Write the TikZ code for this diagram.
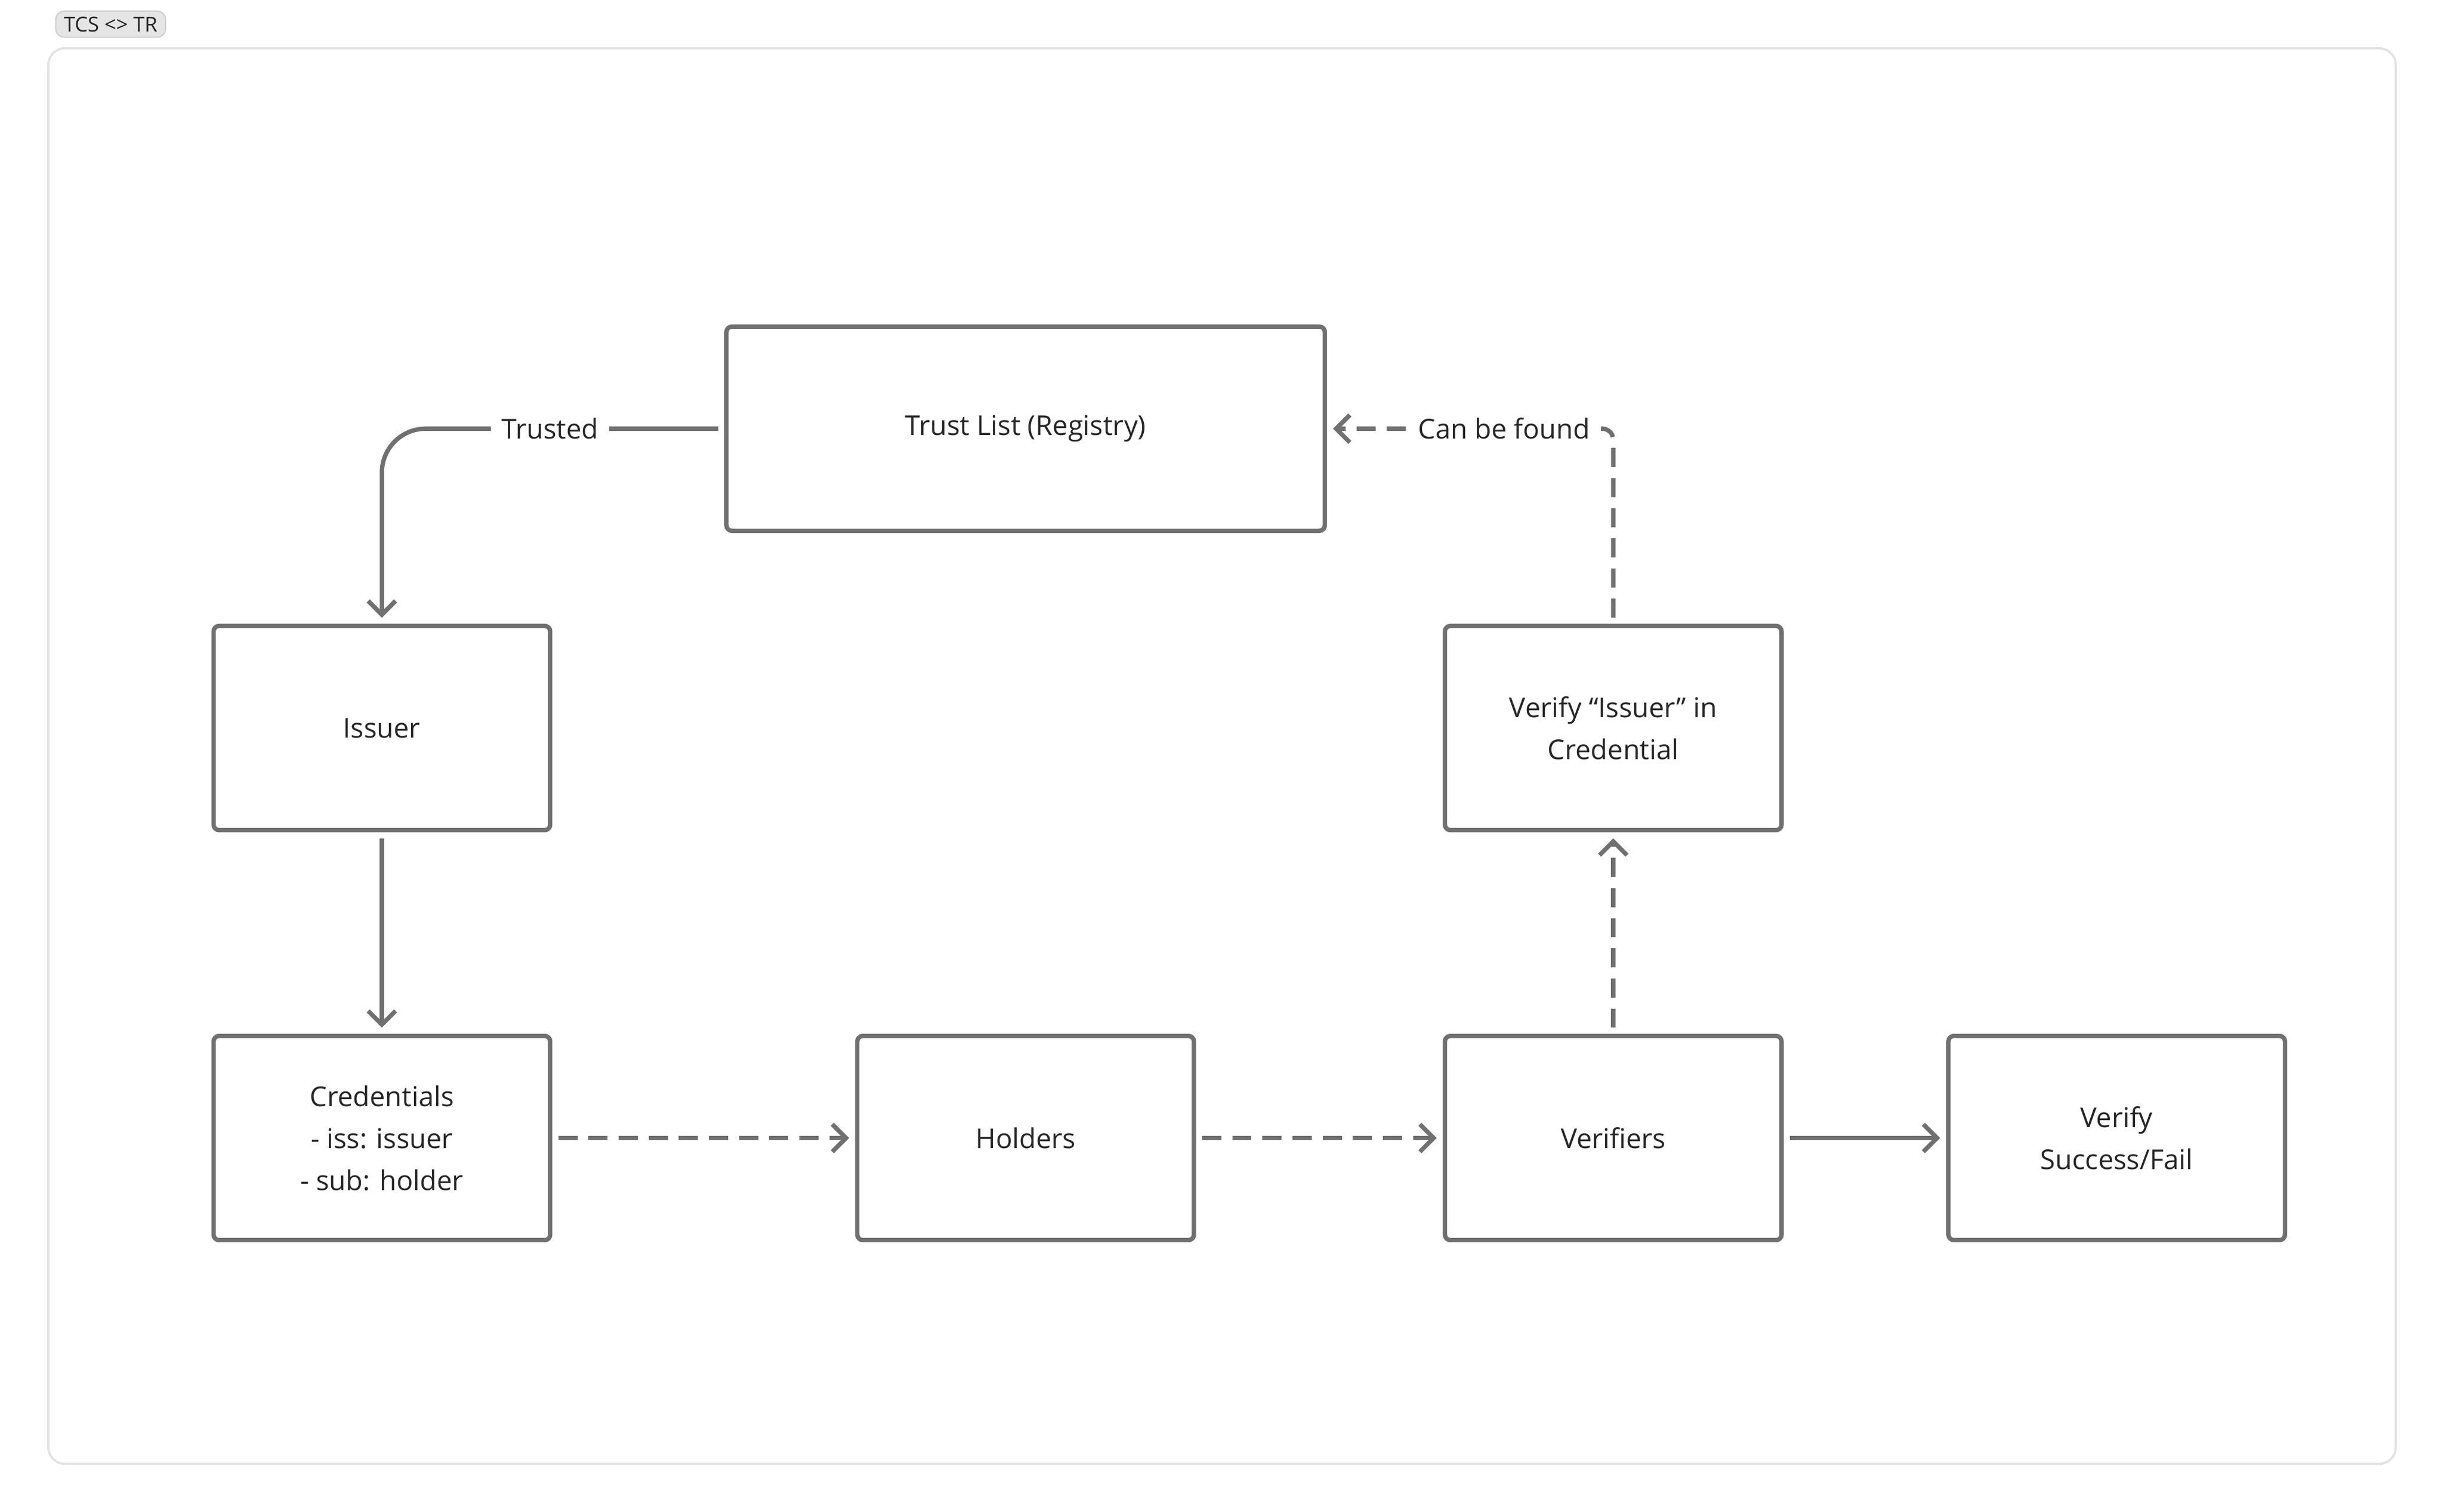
\documentclass[tikz,border=0pt]{standalone}
\usepackage{fontspec}
\setmainfont{Open Sans}
\usetikzlibrary{positioning, arrows.meta}
\definecolor{edgegray}{HTML}{707070}
\definecolor{framegray}{HTML}{E2E2E2}
\begin{document}
\begin{tikzpicture}[
    x=0.02cm, y=-0.02cm,
    every node/.style = {font=\fontsize{10pt}{15.3pt}\selectfont, text=black!85},
    box/.style = {draw=edgegray, line width=1.6pt, rounded corners=2pt, minimum width=4.32cm, minimum height=2.62cm, align=center, outer sep=3pt},
    link/.style = {draw=edgegray, line width=1.6pt, -{Straight Barb[length=5pt, width=10pt]}},
    flow/.style = {link, dash pattern=on 7pt off 4pt},
    tag/.style = {fill=white, inner sep=4pt}
]
    \useasboundingbox (0,0) rectangle (1568,969.6);
    \draw[framegray, line width=0.8pt, rounded corners=6pt] (31,31) rectangle (1537,939);
    \node (title) [fill=black!10, draw=black!20, rounded corners=3pt, inner xsep=3pt, inner ysep=2pt, font=\fontsize{7.5pt}{9pt}\selectfont] at (71,15.5) {TCS <> TR};

    \node (trust) [box, minimum width=7.68cm] at (658,275) {Trust List (Registry)};
    \node (issuer) [box] at (245,467) {Issuer};
    \node (check) [box] at (1035,467) {Verify “Issuer” in\\Credential};
    \node (cred) [box] at (245,730) {Credentials\\- iss: issuer\\- sub: holder};
    \node (holders) [box] at (658,730) {Holders};
    \node (verifiers) [box] at (1035,730) {Verifiers};
    \node (result) [box] at (1358,730) {Verify\\Success/Fail};

    \draw[link, rounded corners=16pt] (trust.west) -- (issuer.north |- trust.west) -- (issuer.north);
    \node (trusted) [tag] at (353,275) {Trusted};
    \draw[link] (issuer) -- (cred);
    \draw[flow] (cred) -- (holders);
    \draw[flow] (holders) -- (verifiers);
    \draw[link] (verifiers) -- (result);
    \draw[flow] (verifiers) -- (check);
    \draw[flow, rounded corners=4pt] (check.north) -- (check.north |- trust.east) -- (trust.east);
    \node (found) [tag] at (965,275) {Can be found};
\end{tikzpicture}
\end{document}
